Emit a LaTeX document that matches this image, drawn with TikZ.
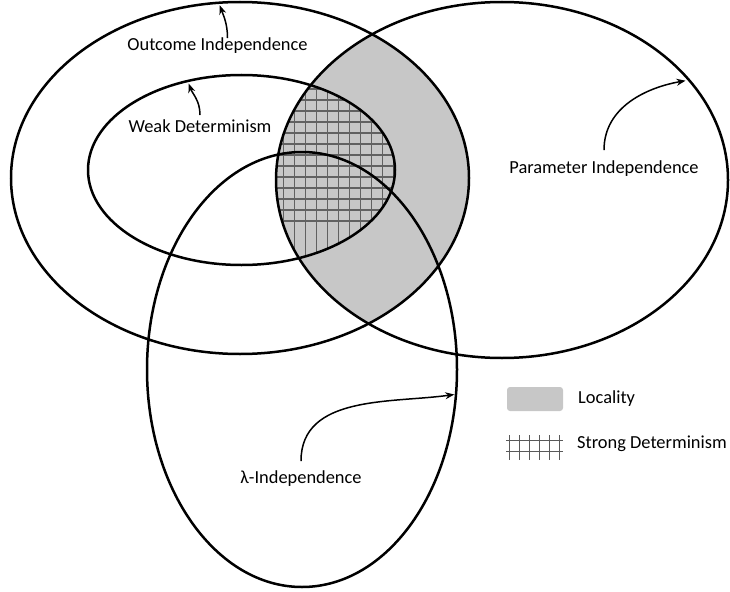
\documentclass[tikz,border=0pt]{standalone}
\usepackage{fontspec}
\setmainfont{Carlito}
\usetikzlibrary{shapes,arrows.meta}

\begin{document}
\begin{tikzpicture}[x=1pt,y=-1pt,
  venn/.style={shape=ellipse,draw,line width=2.5pt,inner sep=0},
  lbl/.style={anchor=base,inner sep=0,font=\fontsize{18.4}{22}\selectfont},
  pointer/.style={-{Stealth[length=9pt,width=7pt]},line width=1.5pt},
  locality/.style={fill=black!22},
  hatch/.style={draw=black!62,line width=1.2pt}]
\useasboundingbox (0,0) rectangle (730,591);

% shaded regions
\begin{scope}
  \clip (240,178) ellipse [x radius=229pt,y radius=176pt];
  \fill[locality] (502,180) ellipse [x radius=226pt,y radius=178pt];
\end{scope}
\begin{scope}
  \clip (241.5,170) ellipse [x radius=153.5pt,y radius=95pt];
  \clip (502,180) ellipse [x radius=226pt,y radius=178pt];
  \foreach \i in {0,...,12}{%
    \draw[hatch] ({272.3+11*\i},60)--({272.3+11*\i},280);
    \draw[hatch] (260,{89+11*\i})--(420,{89+11*\i});}
\end{scope}

\node[venn,minimum width=458pt,minimum height=352pt] (oi) at (240,178) {};
\node[venn,minimum width=452pt,minimum height=356pt] (pi) at (502,180) {};
\node[venn,minimum width=307pt,minimum height=190pt] (wd) at (241.5,170) {};
\node[venn,minimum width=310pt,minimum height=435pt] (li) at (302,369.5) {};

\node[lbl] (oil) at (217.5,51) {Outcome Independence};
\node[lbl] (wdl) at (200,132) {Weak Determinism};
\node[lbl] (pil) at (604,173) {Parameter Independence};
\node[lbl] (lil) at (301,483) {λ-Independence};

\draw[pointer,shorten >=4pt] ([xshift=10pt]oil.north) to[out=90,in=-70] (oi.97);
\draw[pointer,shorten >=4pt] ([yshift=4pt]wdl.north) to[out=90,in=-70] (wd.121);
\draw[pointer,shorten >=5pt] ([yshift=10pt]pil.north) to[out=90,in=190] (pi.28);
\draw[pointer,shorten >=3pt] ([yshift=9pt]lil.north) to[out=90,in=188] (li.-9);

% legend
\node[locality,rounded corners=3pt,minimum width=56pt,minimum height=24pt,inner sep=0] (lockey) at (535,399) {};
\node[lbl,anchor=base west] (locl) at (578,403) {Locality};
\foreach \i in {0,...,5}{%
  \draw[draw=black!65,line width=1pt] ({509+10*\i},435)--({509+10*\i},460);}
\foreach \j in {440,451}{%
  \draw[draw=black!65,line width=1pt] (506,\j)--(563,\j);}
\node[lbl,anchor=base west] (sdl) at (577,448) {Strong Determinism};
\end{tikzpicture}
\end{document}
